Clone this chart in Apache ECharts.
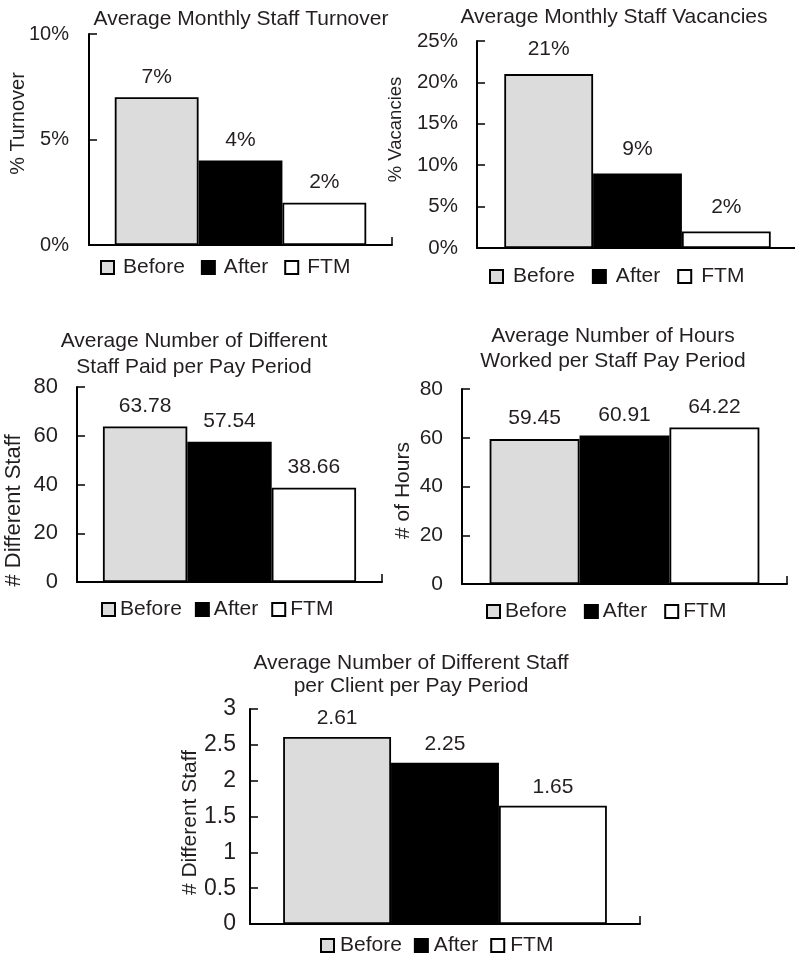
<!DOCTYPE html>
<html>
<head>
<meta charset="utf-8">
<script src="https://cdn.jsdelivr.net/npm/echarts@6/dist/echarts.min.js"></script>
<style>
  html, body { margin: 0; padding: 0; background: #fff; }
  #chart { width: 795px; height: 953px; }
</style>
</head>
<body>
<div id="chart"></div>
<script>
// 数据
const seriesNames = ['Before', 'After', 'FTM'];
const category = [''];
const turnover = [7, 4, 2];
const vacancies = [21, 9, 2];
const staffPaid = [63.78, 57.54, 38.66];
const hoursWorked = [59.45, 60.91, 64.22];
const staffPerClient = [2.61, 2.25, 1.65];

const titles = [
  'Average Monthly Staff Turnover',
  'Average Monthly Staff Vacancies',
  'Average Number of Different\nStaff Paid per Pay Period',
  'Average Number of Hours\nWorked per Staff Pay Period',
  'Average Number of Different Staff\nper Client per Pay Period'
];
const yNames = ['% Turnover', '% Vacancies', '# Different Staff', '# of Hours', '# Different Staff'];
const yMax = [10, 25, 80, 80, 3];
const yStep = [5, 5, 20, 20, 0.5];
const isPercent = [true, true, false, false, false];

const panelData = [turnover, vacancies, staffPaid, hoursWorked, staffPerClient];

// 版面（像素）
const panels = [
  { grid: { left: 89, top: 34, width: 303, height: 211 }, titleX: 241, titleY: 8, lh: 22,
    legendX: 100, legendY: 257, itemGap: 16, iconPad: 4, labelMargin: 20, tickSize: 20,
    nameGap: 61, nameShift: 16, nameSize: 20, labelDist: 10 },
  { grid: { left: 477, top: 41, width: 321, height: 207 }, titleX: 614, titleY: 6, lh: 22,
    legendX: 489, legendY: 266, itemGap: 17, iconPad: 5, labelMargin: 19, tickSize: 20.5,
    nameGap: 72, nameShift: 15, nameSize: 18.5, labelDist: 14 },
  { grid: { left: 77, top: 387, width: 305, height: 195 }, titleX: 194, titleY: 328, lh: 26,
    legendX: 101, legendY: 599, itemGap: 13, iconPad: 0, labelMargin: 19, tickSize: 22,
    nameGap: 52, nameShift: -26, nameSize: 22, labelDist: 10 },
  { grid: { left: 462, top: 389, width: 325, height: 195 }, titleX: 613, titleY: 323.5, lh: 25,
    legendX: 486, legendY: 601, itemGap: 17, iconPad: 0, labelMargin: 19, tickSize: 21,
    nameGap: 48, nameShift: -4, nameSize: 21, labelDist: 10 },
  { grid: { left: 250, top: 709, width: 390, height: 215 }, titleX: 411, titleY: 651.5, lh: 23,
    legendX: 320, legendY: 935, itemGap: 12, iconPad: 1, labelMargin: 14, tickSize: 23,
    nameGap: 49, nameShift: -6, nameSize: 21, labelDist: 8 }
];

const textColor = '#231f20';
const fontSize = 21;
const fills = ['#dcdcdc', '#000000', '#ffffff'];

const chart = echarts.init(document.getElementById('chart'));

const option = {
  animation: false,
  backgroundColor: '#fff',
  textStyle: { fontFamily: '"Liberation Sans", Arial, sans-serif' },
  title: [],
  legend: [],
  grid: [],
  xAxis: [],
  yAxis: [],
  series: []
};

panels.forEach((p, i) => {
  option.title.push({
    text: titles[i],
    left: p.titleX,
    top: p.titleY,
    textAlign: 'center',
    padding: 0,
    textStyle: { fontSize: fontSize, fontWeight: 'normal', color: textColor, lineHeight: p.lh }
  });

  option.legend.push({
    data: seriesNames,
    left: p.legendX,
    top: p.legendY,
    padding: 0,
    icon: 'rect',
    itemWidth: 13,
    itemHeight: 13,
    itemGap: p.itemGap,
    selectedMode: false,
    textStyle: { fontSize: fontSize, color: textColor, lineHeight: 20, padding: [0, 0, 0, p.iconPad] }
  });

  option.grid.push(Object.assign({ outerBoundsMode: 'none', containLabel: false }, p.grid));

  option.xAxis.push({
    type: 'category',
    gridIndex: i,
    data: category,
    axisLine: { show: true, lineStyle: { color: '#000', width: 2 } },
    axisTick: { show: true, inside: true, length: 8, lineStyle: { color: '#000', width: 1.5 } },
    axisLabel: { show: false },
    splitLine: { show: false }
  });

  // 名称偏移：正数向上
  const pad = p.nameShift >= 0 ? [0, 0, 0, 2 * p.nameShift] : [0, -2 * p.nameShift, 0, 0];
  option.yAxis.push({
    type: 'value',
    gridIndex: i,
    min: 0,
    max: yMax[i],
    interval: yStep[i],
    name: yNames[i],
    nameLocation: 'middle',
    nameGap: p.nameGap,
    nameRotate: 90,
    nameMoveOverlap: false,
    nameTextStyle: { fontSize: p.nameSize, color: textColor, padding: pad },
    axisLine: { show: true, lineStyle: { color: '#000', width: 2 } },
    axisTick: { show: true, inside: true, length: 8, lineStyle: { color: '#000', width: 1.5 } },
    axisLabel: {
      fontSize: p.tickSize,
      color: textColor,
      margin: p.labelMargin,
      formatter: isPercent[i] ? '{value}%' : '{value}'
    },
    splitLine: { show: false }
  });

  seriesNames.forEach((name, j) => {
    option.series.push({
      name: name,
      type: 'bar',
      xAxisIndex: i,
      yAxisIndex: i,
      data: [panelData[i][j]],
      barGap: '0%',
      barCategoryGap: '17%',
      itemStyle: { color: fills[j], borderColor: '#000', borderWidth: 1.8 },
      label: {
        show: true,
        position: 'top',
        distance: p.labelDist,
        fontSize: fontSize,
        color: textColor,
        formatter: isPercent[i] ? '{c}%' : '{c}'
      },
      emphasis: { disabled: true }
    });
  });
});

chart.setOption(option);
</script>
</body>
</html>
